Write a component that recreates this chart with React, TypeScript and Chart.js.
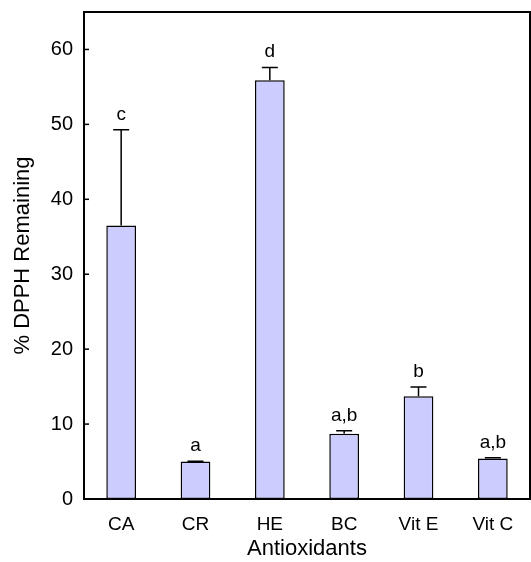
import React, { useEffect, useRef } from "react";
import { Chart, registerables } from "chart.js";

Chart.register(...registerables);

const categories = ["CA", "CR", "HE", "BC", "Vit E", "Vit C"];
const means = [36.5, 5.0, 55.9, 8.7, 13.7, 5.4];
const errors = [12.8, 0.05, 1.7, 0.4, 1.25, 0.1];
const letters = ["c", "a", "d", "a,b", "b", "a,b"];
const yTicks = [0, 10, 20, 30, 40, 50, 60];

const FONT = "'Liberation Sans', Arial, Helvetica, sans-serif";

const decorPlugin = {
  id: "decor",
  afterDatasetsDraw(chart: any) {
    const ctx = chart.ctx;
    const { left, right, top, bottom } = chart.chartArea;
    const meta = chart.getDatasetMeta(0);
    const yScale = chart.scales.y;
    ctx.save();
    // error bars
    ctx.strokeStyle = "#000";
    ctx.lineWidth = 1.5;
    meta.data.forEach((bar: any, i: number) => {
      const x = bar.x;
      const y0 = yScale.getPixelForValue(means[i]);
      const y1 = yScale.getPixelForValue(means[i] + errors[i]);
      ctx.beginPath();
      ctx.moveTo(x, y0);
      ctx.lineTo(x, y1);
      ctx.moveTo(x - 8, y1);
      ctx.lineTo(x + 8, y1);
      ctx.stroke();
      // letters
      ctx.fillStyle = "#000";
      ctx.font = `19px ${FONT}`;
      ctx.textAlign = "center";
      ctx.textBaseline = "alphabetic";
      ctx.fillText(letters[i], x, y1 - 10);
    });
    // inward y ticks
    ctx.lineWidth = 1.5;
    yTicks.forEach((v) => {
      const y = yScale.getPixelForValue(v);
      ctx.beginPath();
      ctx.moveTo(left, y);
      ctx.lineTo(left + 5, y);
      ctx.stroke();
    });
    // frame
    ctx.lineWidth = 2;
    ctx.strokeRect(left, top, right - left, bottom - top);
    ctx.restore();
  },
};

export default function App() {
  const canvasRef = useRef<HTMLCanvasElement>(null);

  useEffect(() => {
    document.body.style.margin = "0";
    const canvas = canvasRef.current;
    if (!canvas) return;
    const chart = new Chart(canvas, {
      type: "bar",
      data: {
        labels: categories,
        datasets: [
          {
            data: means,
            backgroundColor: "#CCCCFF",
            borderColor: "#000",
            borderWidth: 1.5,
            borderSkipped: false,
            barPercentage: 0.4,
            categoryPercentage: 1,
          },
        ],
      },
      options: {
        animation: false,
        responsive: false,
        maintainAspectRatio: false,
        layout: { padding: { top: 12, right: 1, left: 0, bottom: 0 } },
        plugins: {
          legend: { display: false },
          tooltip: { enabled: false },
          title: { display: false },
        },
        scales: {
          x: {
            grid: { display: false, drawTicks: false },
            border: { display: false },
            ticks: {
              color: "#000",
              padding: 14,
              font: { family: FONT, size: 19 },
            },
            title: {
              display: true,
              text: "Antioxidants",
              color: "#000",
              font: { family: FONT, size: 22 },
              padding: { top: 0, bottom: 0 },
            },
            afterFit(scale: any) {
              scale.height = 63;
              scale.paddingLeft = 0;
              scale.paddingRight = 0;
            },
          },
          y: {
            min: 0,
            max: 65,
            afterBuildTicks(scale: any) {
              scale.ticks = yTicks.map((v) => ({ value: v }));
            },
            grid: { display: false, drawTicks: false },
            border: { display: false },
            ticks: {
              color: "#000",
              padding: 11,
              font: { family: FONT, size: 20 },
            },
            title: {
              display: true,
              text: "% DPPH Remaining",
              color: "#000",
              font: { family: FONT, size: 22 },
              padding: { top: 10, bottom: 0 },
            },
            afterFit(scale: any) {
              scale.width = 84;
              scale.paddingTop = 0;
              scale.paddingBottom = 0;
            },
          },
        },
      },
      plugins: [decorPlugin],
    });
    return () => chart.destroy();
  }, []);

  return (
    <div style={{ width: 531, height: 562 }}>
      <canvas ref={canvasRef} width={531} height={562} style={{ display: "block" }} />
    </div>
  );
}
